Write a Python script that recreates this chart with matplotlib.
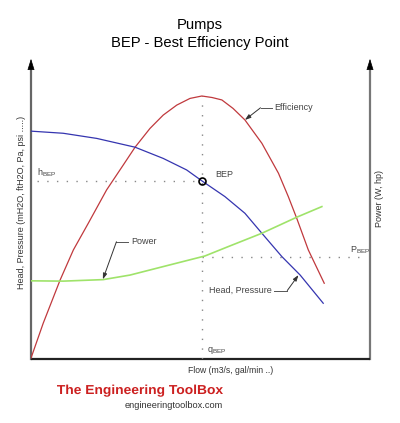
import matplotlib
matplotlib.use("Agg")
import matplotlib.pyplot as plt
from matplotlib.textpath import TextPath
from matplotlib.patches import PathPatch
from matplotlib.font_manager import FontProperties
from matplotlib.transforms import Affine2D

plt.rcParams['font.family'] = ['Liberation Sans', 'DejaVu Sans']
plt.rcParams['mathtext.fontset'] = 'custom'
plt.rcParams['mathtext.rm'] = 'Liberation Sans'

# flow axis 0..100, value axis 0..100 (arbitrary units)
head_q = [0, 9.5, 19.4, 30.7, 39.0, 45.9, 50.4, 57.2, 63.1, 68.1, 74.0, 79.4, 86.2]
head_h = [75.2, 74.5, 72.8, 69.9, 66.2, 62.4, 58.8, 53.6, 48.1, 41.5, 33.8, 27.7, 18.4]

eff_q = [0, 3.6, 8.6, 12.5, 16.9, 22.3, 27.2, 30.7, 35.1, 39.0, 43.0, 46.9, 50.4,
         53.4, 56.3, 59.6, 63.1, 68.1, 73.0, 75.9, 78.4, 81.8, 86.5]
eff_e = [0.3, 11.8, 26.1, 36.0, 44.8, 55.8, 64.0, 69.9, 76.1, 80.5, 83.8, 86.0, 86.8,
         86.3, 85.5, 82.7, 78.9, 71.2, 61.3, 53.6, 46.4, 36.0, 25.0]

pow_q = [0, 9.5, 21.3, 29.2, 39.0, 51.3, 58.2, 68.1, 78.4, 85.8]
pow_p = [25.8, 25.7, 26.2, 27.7, 30.5, 34.0, 37.1, 41.5, 46.8, 50.3]

q_bep = 50.4
h_bep = 58.8
p_bep = 33.7
eff_max = 86.8

fig = plt.figure(figsize=(4, 4.23), dpi=100)
ax = fig.add_axes([31 / 400, 64 / 423, 339 / 400, 303 / 423])
ax.set_xlim(0, 100)
ax.set_ylim(0, 100)
ax.axis("off")

# axes drawn by hand (gray verticals with arrows, dark bottom)
ax.plot([0, 0], [0, 97], color="#666666", lw=1.6, clip_on=False)
ax.plot([100, 100], [0, 97], color="#777777", lw=1.6, clip_on=False)
ax.plot([0, 100], [0, 0], color="#222222", lw=1.6, clip_on=False, solid_capstyle="butt")
for xa in (0, 100):
    ax.annotate("", xy=(xa, 100), xytext=(xa, 95),
                arrowprops=dict(arrowstyle="-|>,head_length=0.7,head_width=0.22",
                                color="black", lw=0.5), annotation_clip=False)

dots = (0, (1, 6))
ax.plot([q_bep, q_bep], [0, eff_max], color="#888888", lw=1, ls=dots)
ax.plot([1.8, q_bep], [h_bep, h_bep], color="#888888", lw=1, ls=dots)
ax.plot([q_bep, 97.6], [p_bep, p_bep], color="#888888", lw=1, ls=dots)

ax.plot(eff_q, eff_e, color="#c0393d", lw=0.9, solid_joinstyle="round")
ax.plot(head_q, head_h, color="#3535b0", lw=0.9, solid_joinstyle="round")
ax.plot(pow_q, pow_p, color="#9fe36a", lw=1.2, solid_joinstyle="round")
ax.plot([q_bep], [h_bep], marker="o", ms=5, mfc="none", mec="black", mew=1.2)

small = 6.5
ax.text(1.8, 61.5, r"h$_{\rm BEP}$", fontsize=small, color="#444444", va="center")
ax.text(54.4, 61.0, "BEP", fontsize=small, color="#444444", va="center")
ax.text(94.1, 36.0, r"P$_{\rm BEP}$", fontsize=small, color="#444444", va="center")
ax.text(51.8, 2.9, r"q$_{\rm BEP}$", fontsize=small, color="#444444", va="center")


def leader(tip, bend, end, label, ha):
    ax.plot([bend[0], end[0]], [bend[1], end[1]], color="#555555", lw=0.7)
    ax.annotate("", xy=tip, xytext=bend,
                arrowprops=dict(arrowstyle="-|>,head_length=0.35,head_width=0.12",
                                color="#333333", lw=0.7, shrinkA=0, shrinkB=0))
    dx = 0.9 if ha == "left" else -0.9
    ax.text(end[0] + dx, end[1], label, fontsize=small, color="#444444",
            ha=ha, va="center")


leader((63.1, 78.9), (67.7, 82.9), (71.0, 82.9), "Efficiency", "left")
leader((21.2, 26.3), (25.2, 38.7), (28.6, 38.7), "Power", "left")
leader((78.9, 27.7), (75.6, 22.6), (71.8, 22.6), "Head, Pressure", "right")

fig.text(0.5, 1 - 25 / 423, "Pumps", fontsize=10.6, ha="center", va="center")
fig.text(0.5, 1 - 43 / 423, "BEP - Best Efficiency Point", fontsize=10.6, ha="center", va="center")

fig.text(231 / 400, 1 - 370 / 423, "Flow (m3/s, gal/min ..)", fontsize=6.2,
         color="#333333", ha="center", va="center")
fig.text(22 / 400, 1 - 202 / 423, "Head, Pressure (mH2O, ftH2O, Pa, psi .....)",
         fontsize=small, color="#333333", rotation=90, ha="center", va="center")
fig.text(379 / 400, 1 - 198 / 423, "Power (W, hp)", fontsize=small, color="#333333",
         rotation=90, ha="center", va="center")

# logo: bold text squeezed to a narrow face
logo = TextPath((0, 0), "The Engineering ToolBox", size=10,
                prop=FontProperties(family="Liberation Sans", weight="bold"))
ext = logo.get_extents()
sx = 166 / ext.width
sy = 1.3
tr = Affine2D().scale(sx, sy).translate(57 - ext.x0 * sx, 423 - 394)
fig.add_artist(PathPatch(logo, transform=tr, facecolor="#cc2020", edgecolor="none"))
fig.text(223 / 400, 1 - 405 / 423, "engineeringtoolbox.com", fontsize=6.7,
         color="#333333", ha="right", va="center")

fig.savefig("out.png", dpi=100)
